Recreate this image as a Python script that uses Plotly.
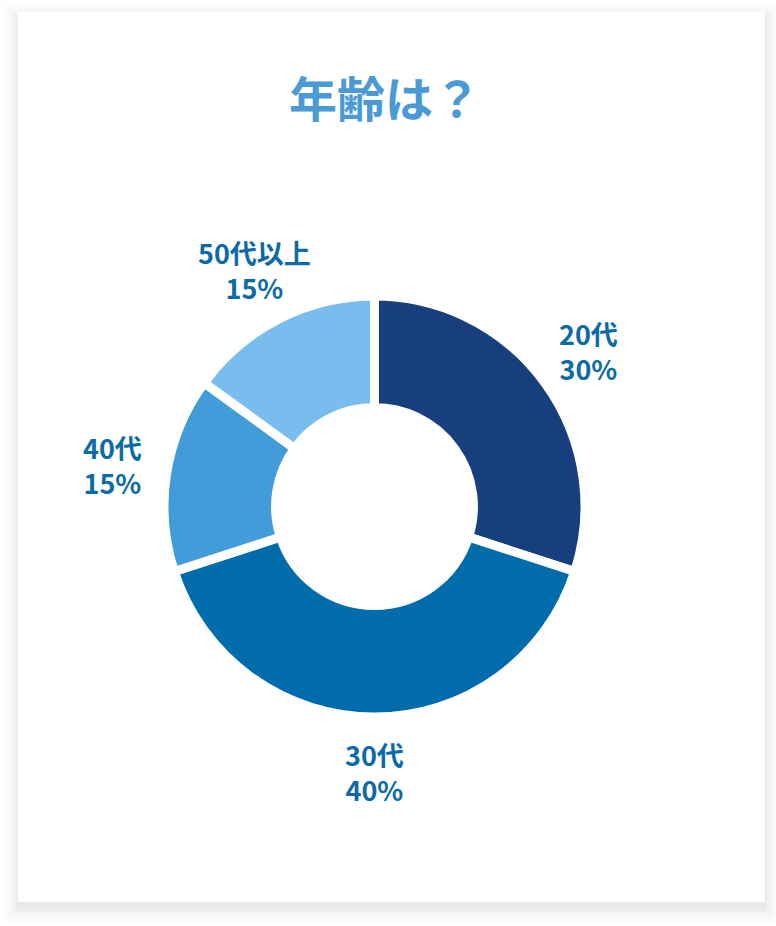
import numpy as np
import plotly.graph_objects as go

# données du graphique
labels = ["20代", "30代", "40代", "50代以上"]
values = [30, 40, 15, 15]
colors = ["#173e7d", "#006cab", "#439cda", "#79bdef"]

W, H = 776, 926
cx, cy, r_label = 374.5, 506.5, 265  # centre du donut et rayon des étiquettes (px)
R = 210.5

fig = go.Figure()

fig.add_trace(go.Pie(
    labels=labels,
    values=values,
    sort=False,
    direction="clockwise",
    rotation=0,
    hole=0.47,
    marker=dict(colors=colors, line=dict(color="white", width=9)),
    textinfo="none",
    showlegend=False,
    domain=dict(x=[(cx - R) / W, (cx + R) / W], y=[1 - (cy + R) / H, 1 - (cy - R) / H]),
    hoverinfo="label+percent",
))

# étiquettes à l'extérieur, à l'angle milieu de chaque part
total = sum(values)
cum = np.cumsum([0] + values[:-1])
annotations = []
for lab, v, c in zip(labels, values, cum):
    theta = 2 * np.pi * (c + v / 2) / total
    x = (cx + r_label * np.sin(theta)) / W
    y = 1 - (cy - r_label * np.cos(theta)) / H
    annotations.append(dict(text=f"{lab}<br>{round(100 * v / total)}%", x=x, y=y,
                            xref="paper", yref="paper", showarrow=False,
                            xanchor="center", yanchor="middle", align="center",
                            font=dict(family="Noto Sans CJK JP", size=27, color="#0b6aa8", weight="bold")))

# ombre de la carte (rectangles superposés)
shapes = []
for i, op in enumerate([0.025, 0.02, 0.015, 0.012, 0.008, 0.006]):
    d = 1 + i * 3
    shapes.append(dict(type="rect", xref="paper", yref="paper", layer="below",
                       x0=(18 - d) / W, x1=(765 + d) / W,
                       y0=1 - (902 + d + 6) / H, y1=1 - (12 - d + 6) / H,
                       fillcolor="black", opacity=op, line=dict(width=0)))
shapes.append(dict(type="rect", xref="paper", yref="paper", layer="below",
                   x0=18 / W, x1=765 / W, y0=1 - 902 / H, y1=1 - 12 / H,
                   fillcolor="white", line=dict(width=0)))

fig.update_layout(
    width=W, height=H,
    margin=dict(l=0, r=0, t=0, b=0),
    paper_bgcolor="white",
    plot_bgcolor="white",
    shapes=shapes,
    annotations=annotations,
    title=dict(text="年齢は？", x=385 / W, xanchor="center", y=1 - 100 / H, yanchor="middle",
               font=dict(family="Noto Sans CJK JP", size=48, color="#4a9ad6", weight="bold")),
)

fig.write_html("out.html", config={"displayModeBar": False},
               post_script="document.body.style.margin='0';")
